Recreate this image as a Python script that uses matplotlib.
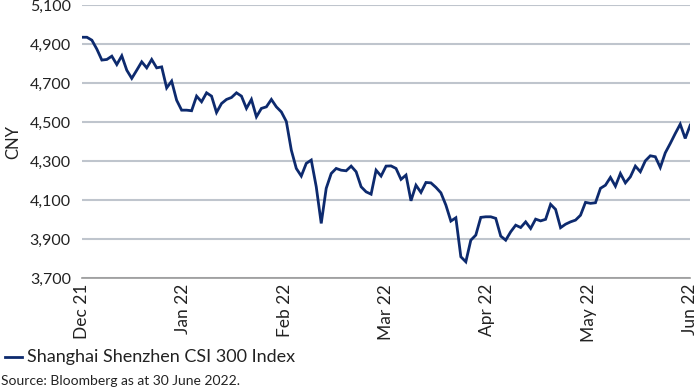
import matplotlib.pyplot as plt
import matplotlib.ticker as mticker
import numpy as np

plt.rcParams['font.family'] = ['Lato', 'DejaVu Sans']

# CSI 300 closing levels (one point per session, Dec 21 - Jun 22)
csi300 = [
    4937, 4937, 4922, 4876, 4820, 4823, 4840, 4797, 4842, 4768, 4726, 4768,
    4811, 4780, 4823, 4780, 4785, 4677, 4712, 4614, 4563, 4563, 4560,
    4635, 4606, 4652, 4635, 4551, 4597, 4618, 4628, 4652, 4635, 4572, 4618,
    4529, 4572, 4580, 4618, 4580, 4554, 4505,
    4358, 4264, 4225, 4290, 4307, 4170, 3982, 4162, 4238, 4264, 4255, 4252,
    4276, 4247, 4170, 4144, 4132, 4255, 4225, 4276,
    4277, 4264, 4208, 4230, 4098, 4178, 4141, 4192, 4190, 4167, 4139, 4076,
    3994, 4011, 3811, 3785, 3896, 3922, 4013,
    4016, 4016, 4008,
    3917, 3896, 3939, 3973, 3961, 3990, 3956, 4004, 3995, 4003, 4080, 4054,
    3960, 3978, 3990, 3999, 4024, 4090, 4085, 4088,
    4162, 4178, 4218, 4173, 4238, 4190, 4221, 4276, 4247, 4303, 4329, 4324,
    4269, 4344, 4392, 4443, 4491, 4418, 4486,
]
month_labels = ['Dec 21', 'Jan 22', 'Feb 22', 'Mar 22', 'Apr 22', 'May 22', 'Jun 22']
y_ticks = [3700, 3900, 4100, 4300, 4500, 4700, 4900, 5100]

navy = '#0d2a6e'
grid = '#bfc5cd'

fig = plt.figure(figsize=(7, 3.91), dpi=100)
ax = fig.add_axes([0.117, 0.288, 0.869, 0.698])

x = np.arange(len(csi300))
ax.plot(x, csi300, color=navy, lw=2.0, solid_joinstyle='miter', zorder=3)

ax.set_xlim(0, len(csi300) - 1)
ax.set_ylim(3700, 5100)
ax.set_yticks(y_ticks)
ax.yaxis.set_major_formatter(mticker.StrMethodFormatter('{x:,.0f}'))
ax.set_xticks(np.linspace(0, len(csi300) - 1, len(month_labels)))
ax.set_xticklabels(month_labels, rotation=90, va='top', ha='center')
ax.tick_params(axis='both', length=0, colors='#222222')
ax.tick_params(axis='x', pad=4, labelsize=12.5)
ax.tick_params(axis='y', pad=8, labelsize=11.5)

ax.grid(axis='y', color=grid, lw=1.5)
ax.set_axisbelow(True)
for side in ['top', 'right', 'left']:
    ax.spines[side].set_visible(False)
ax.spines['bottom'].set_color('#9a9a9a')
ax.spines['bottom'].set_linewidth(1.2)

ax.set_ylabel('CNY', fontsize=12, color='#222222', labelpad=6)

# legend + source
fig.lines.append(plt.Line2D([5 / 700, 22 / 700], [1 - 357 / 391, 1 - 357 / 391],
                            transform=fig.transFigure, color=navy, lw=2))
fig.text(27 / 700, 1 - 357 / 391, 'Shanghai Shenzhen CSI 300 Index',
         fontsize=13, va='center', ha='left', color='#222222')
fig.text(1 / 700, 1 - 381 / 391, 'Source: Bloomberg as at 30 June 2022.',
         fontsize=10, va='center', ha='left', color='#222222')

fig.savefig('out.png', dpi=100)
